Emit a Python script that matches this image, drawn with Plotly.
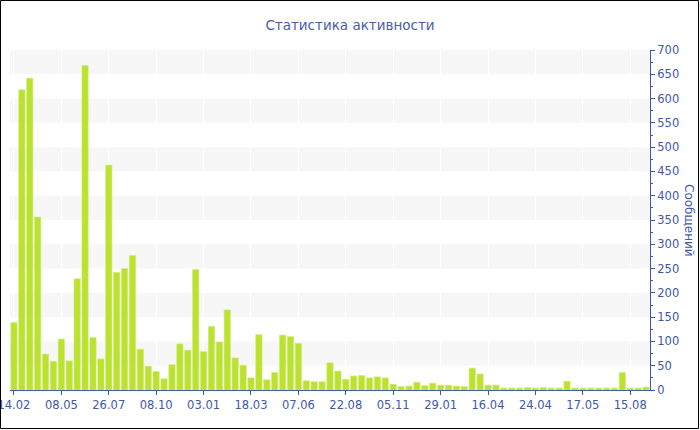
import plotly.graph_objects as go

title_text = "Статистика активности"
y_title = "Сообщений"

values = [139, 618, 642, 356, 74, 59, 105, 60, 229, 668,
          108, 64, 463, 242, 250, 277, 84, 49, 38, 23,
          52, 95, 82, 248, 79, 131, 99, 165, 66, 51,
          25, 114, 21, 36, 113, 110, 96, 19, 17, 17,
          56, 39, 22, 29, 30, 25, 27, 25, 12, 7,
          8, 16, 9, 14, 10, 10, 8, 7, 45, 33,
          10, 10, 4, 4, 4, 5, 4, 5, 4, 4,
          18, 4, 4, 4, 4, 4, 4, 36, 4, 4, 6]

tick_labels = ["14.02", "08.05", "26.07", "08.10", "03.01", "18.03", "07.06",
               "22.08", "05.11", "29.01", "16.04", "24.04", "17.05", "15.08"]
tick_step = 6

x_idx = list(range(len(values)))
tick_vals = [i * tick_step for i in range(len(tick_labels))]

blue = "#3f58a8"
bar_color = "#bbe131"

fig = go.Figure()
fig.add_trace(go.Bar(
    x=x_idx, y=values,
    marker=dict(color=bar_color, line=dict(color="#d2ee78", width=0.6)),
    hoverinfo="y",
))

# alternating horizontal bands
shapes = []
for lo in range(50, 700, 100):
    shapes.append(dict(type="rect", xref="paper", yref="y", x0=0, x1=1,
                       y0=lo, y1=lo + 50, fillcolor="#f7f7f7",
                       line=dict(width=0), layer="below"))
# outer black frame
L, T, W, H = 10, 50, 640, 340
def px(x):
    return (x - L) / W
def py(y):
    return (T + H - y) / H
shapes.append(dict(type="rect", xref="paper", yref="paper",
                   x0=px(0.5), x1=px(698.5), y0=py(428.5), y1=py(0.5),
                   line=dict(color="black", width=1), fillcolor="rgba(0,0,0,0)"))

fig.update_layout(
    width=700, height=430, autosize=False,
    margin=dict(l=L, r=700 - L - W, t=T, b=430 - T - H, pad=0, autoexpand=False),
    paper_bgcolor="white", plot_bgcolor="white",
    bargap=0.2,
    showlegend=False,
    font=dict(family="DejaVu Sans", color=blue, size=11.5),
    title=dict(text=title_text, x=0.5, xref="container", xanchor="center",
               y=1 - 25 / 430, yref="container", yanchor="middle",
               font=dict(family="DejaVu Sans", size=13.5, color="#4a5ca8")),
    shapes=shapes,
    annotations=[dict(text=y_title, xref="paper", yref="paper",
                      x=px(689), y=0.5, showarrow=False, textangle=90,
                      xanchor="center", yanchor="middle",
                      font=dict(family="DejaVu Sans", size=12, color=blue))],
    xaxis=dict(range=[-0.5, len(values) - 0.5], tickvals=tick_vals,
               ticktext=tick_labels, showline=True, linecolor=blue,
               linewidth=1, ticks="outside", ticklen=4, tickcolor=blue,
               showgrid=True, gridcolor="#ffffff", gridwidth=1,
               zeroline=False, ticklabeloverflow="allow", automargin=False,
               tickfont=dict(size=11.5, color=blue)),
    yaxis=dict(range=[0, 700], dtick=50, side="right", showline=True,
               linecolor=blue, linewidth=1, ticks="outside", ticklen=4,
               tickcolor=blue, showgrid=False, zeroline=False, automargin=False,
               tickfont=dict(size=11.5, color=blue),
               minor=dict(dtick=25, ticks="outside", ticklen=2,
                          tickcolor=blue, showgrid=False)),
)

fig.write_html("out.html", post_script="document.body.style.margin='0';",
               config={"displayModeBar": False})
